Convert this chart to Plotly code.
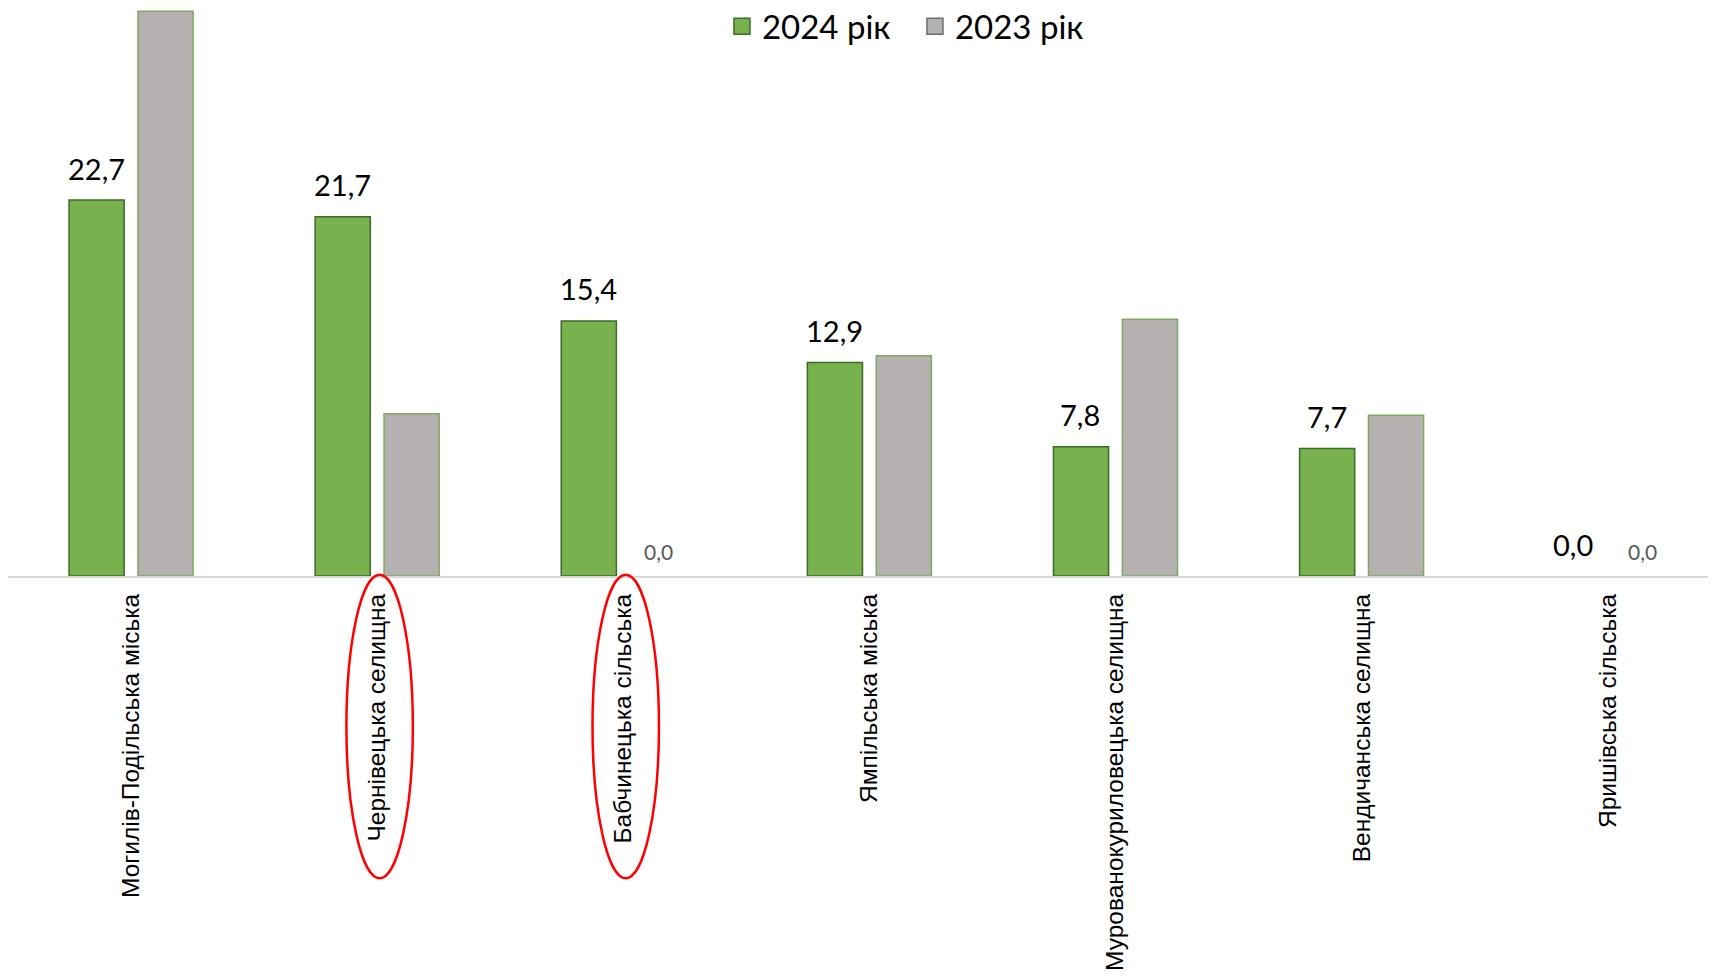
import plotly.graph_objects as go

categories = ["Могилів-Подільська міська", "Чернівецька селищна", "Бабчинецька сільська",
              "Ямпільська міська", "Мурованокуриловецька селищна", "Вендичанська селищна",
              "Яришівська сільська"]
values_2024 = [22.7, 21.7, 15.4, 12.9, 7.8, 7.7, 0.0]
values_2023 = [34.1, 9.8, 0.0, 13.3, 15.5, 9.7, 0.0]
series_names = ["2024 рік", "2023 рік"]
series_colors = ["#77B24F", "#B5B1B1"]
series_edges = ["#3E6B27", "#7FA862"]
highlighted = ["Чернівецька селищна", "Бабчинецька сільська"]

def fmt(v):
    return f"{v:.1f}".replace(".", ",")

fig = go.Figure()
for name, vals, col, edge in zip(series_names, [values_2024, values_2023], series_colors, series_edges):
    fig.add_trace(go.Bar(
        x=categories, y=vals, name=name, showlegend=False,
        marker=dict(color=col, line=dict(color=edge, width=[1.5 if v > 0 else 0 for v in vals])),
    ))
# legend entries with larger square swatches
for name, col, edge in zip(series_names, series_colors, ["#3E6B27", "#6E6E6E"]):
    fig.add_trace(go.Scatter(
        x=[None], y=[None], mode="markers", name=name, showlegend=True,
        marker=dict(symbol="square", size=16, color=col, line=dict(color=edge, width=1.5)),
    ))

annotations = []
for c, v in zip(categories, values_2024):
    annotations.append(dict(x=c, y=v, xref="x", yref="y", text=fmt(v), showarrow=False,
                            xshift=-35, yshift=32, yanchor="middle",
                            font=dict(family="Lato, Open Sans, sans-serif", size=29, color="#000000")))
for c, v in zip(categories, values_2023):
    if v == 0:
        annotations.append(dict(x=c, y=v, xref="x", yref="y", text=fmt(v), showarrow=False,
                                xshift=35, yshift=25, yanchor="middle",
                                font=dict(family="Lato, Open Sans, sans-serif", size=21, color="#595959")))

shapes = []
for c in highlighted:
    i = categories.index(c)
    shapes.append(dict(type="circle", xref="x", yref="paper",
                       x0=i - 0.125, x1=i + 0.145, y0=-0.532, y1=0.002,
                       line=dict(color="#FF0000", width=2.5), fillcolor="rgba(0,0,0,0)"))

fig.update_layout(
    width=1708, height=968,
    margin=dict(l=0, r=0, t=0, b=400, autoexpand=False),
    paper_bgcolor="white", plot_bgcolor="white",
    barmode="group", bargap=0.44, bargroupgap=0.2,
    showlegend=True,
    legend=dict(orientation="h", x=0.531, xanchor="center", yref="container", y=0.981, yanchor="middle",
                font=dict(family="Lato, Open Sans, sans-serif", size=33, color="#000000"),
                itemsizing="trace", bgcolor="rgba(0,0,0,0)", itemwidth=30,
                entrywidth=148, entrywidthmode="pixels"),
    xaxis=dict(range=[-0.5, 6.44], showline=True, linecolor="#D9D9D9", linewidth=2,
               tickangle=-90, showgrid=False, ticks="", ticklabelstandoff=6, automargin=False,
               tickfont=dict(family="Liberation Sans, Arial, sans-serif", size=24.5, color="#000000")),
    yaxis=dict(range=[0, 34.3], visible=False, showgrid=False, zeroline=False, automargin=False),
    annotations=annotations,
    shapes=shapes,
)

fig.write_html("out.html")
